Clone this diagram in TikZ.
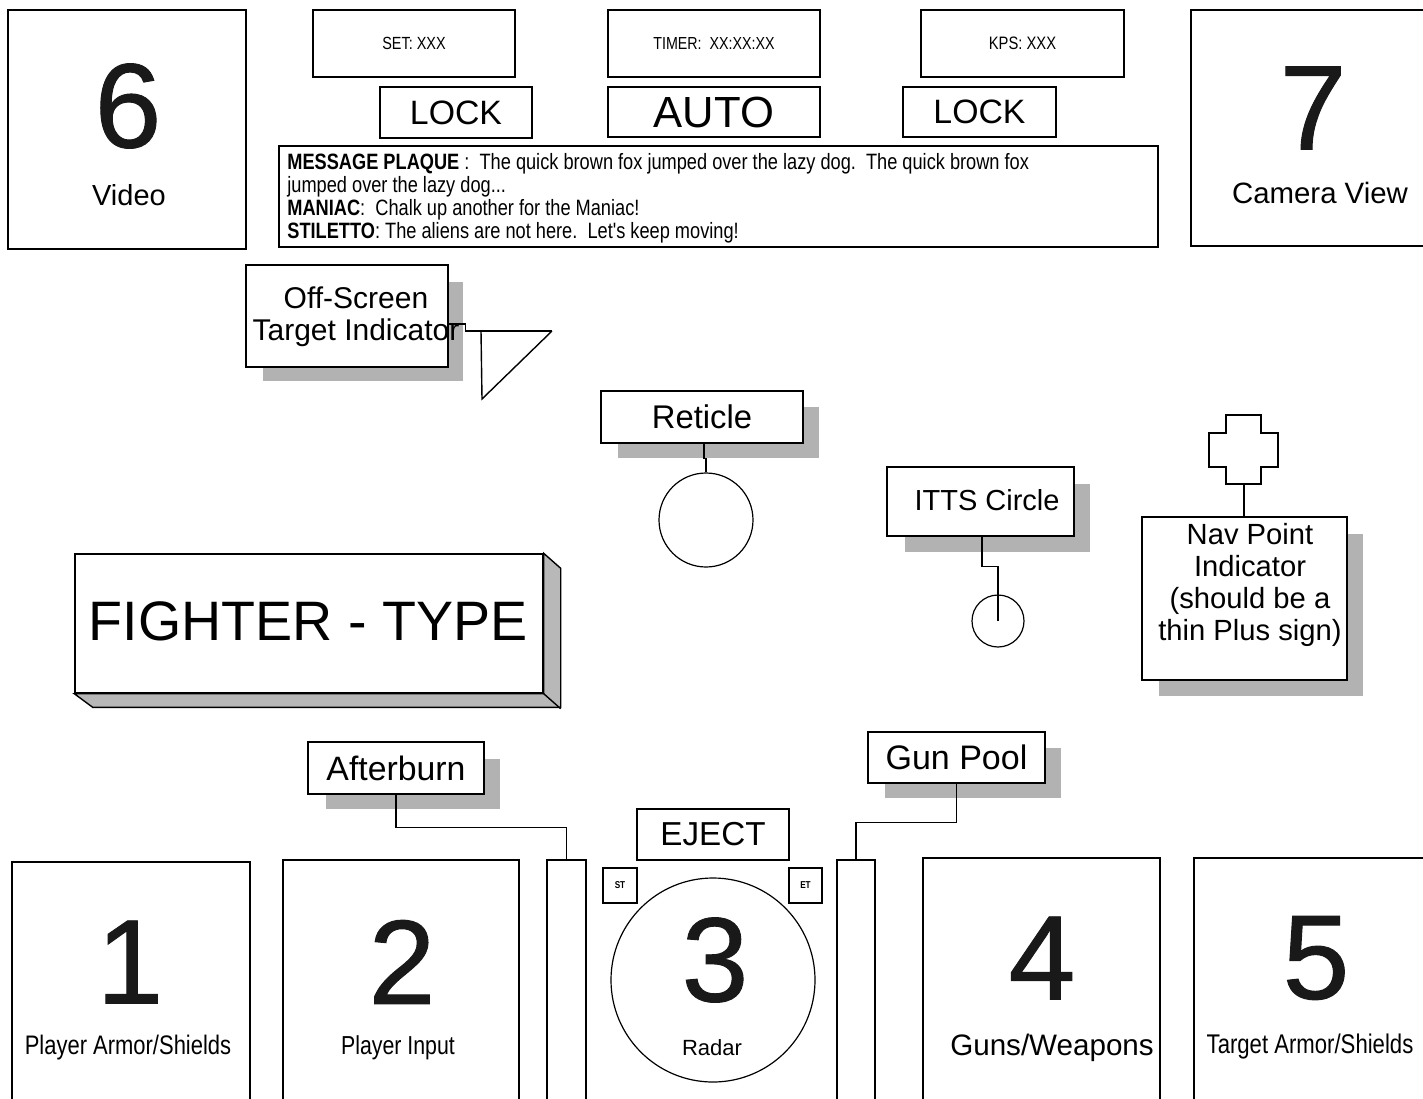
\documentclass[tikz,border=0pt]{standalone}
\usepackage{fontspec}
\setmainfont{Liberation Sans}
\newfontfamily\nar[FakeStretch=0.82]{Liberation Sans}
\newfontfamily\dig[FakeBold=0.8]{Liberation Sans}
\usetikzlibrary{fit}
\newcommand\fsz[2]{\fontsize{#1pt}{#2pt}\selectfont}
\tikzset{
  ln/.style={line width=0.7pt},
  box/.style={draw, line width=0.7pt, fill=white, inner sep=0pt, fit={#1}},
  shadowfill/.style={fill=black!30},
  txt/.style={inner sep=0pt},
  digit/.style={inner sep=0pt, text=black!90, font=\dig\fsz{60}{60}},
  circ/.style={draw, line width=0.6pt, circle, inner sep=0pt},
}
\begin{document}
\begin{tikzpicture}[x=0.5pt,y=-0.5pt]
\useasboundingbox (0,0) rectangle (1423,1098);
\clip (0,0) rectangle (1423,1098);

% ---------- top row ----------
\node[box={(8,10)(246,249)}] (b6) {};
\node[digit] (n6) at (128,106) {6};
\node[txt,font=\fsz{14.5}{17}] (l6) at (129,195) {Video};

\node[box={(1191,10)(1430,246)}] (b7) {};
\node[digit] (n7) at (1313,108) {7};
\node[txt,font=\fsz{14.7}{17}] (l7) at (1320,193) {Camera View};

\node[box={(313,10)(515,77)}] (set) {};
\node[txt,font=\nar\fsz{8.8}{10}] (setT) at (set.center) {SET: XXX};
\node[box={(608,10)(820,77)}] (tim) {};
\node[txt,font=\nar\fsz{8.7}{10}] (timT) at (tim.center) {TIMER:\ \ XX:XX:XX};
\node[box={(921,10)(1124,77)}] (kps) {};
\node[txt,font=\nar\fsz{9}{10}] (kpsT) at (kps.center) {KPS: XXX};

\node[box={(380,87)(532,138)}] (lock1) {};
\node[txt,font=\fsz{16.9}{20}] (lock1T) at (lock1.center) {LOCK};
\node[box={(608,87)(820,137)}] (auto) {};
\node[txt,font=\fsz{21.8}{24}] (autoT) at (auto.center) {AUTO};
\node[box={(903,87)(1056,137)}] (lock2) {};
\node[txt,font=\fsz{16.9}{20}] (lock2T) at (lock2.center) {LOCK};

\node[box={(279,146)(1158,247)}] (msg) {};
\node[txt,anchor=base west,font=\nar\fsz{11.1}{12}] (m1) at (287,169) {\textbf{MESSAGE PLAQUE} :\ \ The quick brown fox jumped over the lazy dog.\ \ The quick brown fox};
\node[txt,anchor=base west,font=\nar\fsz{11.1}{12}] (m2) at (287,192) {jumped over the lazy dog...};
\node[txt,anchor=base west,font=\nar\fsz{11.1}{12}] (m3) at (287,215) {\textbf{MANIAC}:\ \ Chalk up another for the Maniac!};
\node[txt,anchor=base west,font=\nar\fsz{11.1}{12}] (m4) at (287,238) {\textbf{STILETTO}: The aliens are not here.\ \ Let's keep moving!};

% ---------- off-screen target indicator ----------
\fill[shadowfill] (263,282) rectangle (463,381);
\node[box={(246,265)(448,367)}] (off) {};
\node[txt,align=center,font=\fsz{15}{16}] (offT) at (356,317) {Off-Screen\\Target Indicator};
\coordinate (triTL) at (481,331);
\coordinate (triTR) at (552,331);
\coordinate (triB) at (482,399);
\draw[ln] ([yshift=-4pt]off.east) -- ++(17,0) -- ++(0,7) -- (triTR);
\draw[ln] (triTL) -- (triB) -- (triTR);

% ---------- reticle ----------
\fill[shadowfill] (618,407) rectangle (819,458);
\node[box={(601,391)(803,443)}] (ret) {};
\node[txt,font=\fsz{16.4}{18}] (retT) at (ret.center) {Reticle};
\node[circ,minimum size=47pt] (retC) at (706,520) {};
\draw[ln] ([xshift=1pt]ret.south) -- ++(0,15) -| (retC.north);

% ---------- ITTS ----------
\fill[shadowfill] (905,484) rectangle (1090,552);
\node[box={(887,467)(1074,536)}] (itts) {};
\node[txt,font=\fsz{14.5}{17}] (ittsT) at (987,500) {ITTS Circle};
\node[circ,minimum size=26pt] (ittsC) at (998,621) {};
\draw[ln] ([xshift=0.75pt]itts.south) -- ++(0,30) -| (ittsC.center);

% ---------- nav point ----------
\fill[shadowfill] (1159,534) rectangle (1363,696);
\node[box={(1142,517)(1347,680)}] (nav) {};
\node[txt,align=center,font=\fsz{14.6}{16}] (navT) at (1250,585) {Nav Point\\Indicator\\(should be a\\thin Plus sign)};
\draw[ln] (1226,415) -- (1261,415) -- (1261,433) -- (1278,433) -- (1278,467) -- (1261,467) -- (1261,484) -- (1226,484) -- (1226,467) -- (1209,467) -- (1209,433) -- (1226,433) -- cycle;
\coordinate (plusB) at (1244,484);
\draw[ln] (plusB) -- (plusB |- nav.north);

% ---------- fighter type ----------
\node[box={(75,554)(543,693)}] (fig) {};
\filldraw[ln,fill=black!28] (fig.north east) -- ++(17,15) -- ++(0,139) -- ++(-468,0) -- (fig.south west) -- (fig.south east) -- cycle;
\draw[ln] (fig.south east) -- ++(17,15);
\node[txt,font=\fsz{27.8}{30}] (figT) at (308,621) {FIGHTER - TYPE};

% ---------- afterburn / gun pool / eject ----------
\fill[shadowfill] (326,759) rectangle (500,809);
\node[box={(308,742)(484,794)}] (aft) {};
\node[txt,font=\fsz{16.9}{20}] (aftT) at (aft.center) {Afterburn};

\fill[shadowfill] (885,748) rectangle (1061,798);
\node[box={(868,732)(1045,783)}] (gun) {};
\node[txt,font=\fsz{17}{20}] (gunT) at (gun.center) {Gun Pool};

\node[box={(637,809)(789,860)}] (ej) {};
\node[txt,font=\fsz{16.6}{20}] (ejT) at (ej.center) {EJECT};
\node[box={(603,868)(637,903)}] (st) {};
\node[txt,font=\nar\bfseries\fsz{5}{6}] (stT) at (st.center) {ST};
\node[box={(789,868)(822,903)}] (et) {};
\node[txt,font=\nar\bfseries\fsz{5}{6}] (etT) at (et.center) {ET};

\node[box={(547,860)(586,1110)}] (barL) {};
\node[box={(837,860)(875,1110)}] (barR) {};
\draw[ln] (aft.south) -- ++(0,33) -| (barL.north);
\draw[ln] (gun.south) -- ++(0,39) -| (barR.north);

% ---------- bottom row ----------
\node[box={(12,862)(250,1110)}] (b1) {};
\node[digit] (n1) at (130,962) {1};
\node[txt,font=\nar\fsz{13.4}{15}] (l1) at (128,1048) {Player Armor/Shields};

\node[box={(283,860)(519,1110)}] (b2) {};
\node[digit] (n2) at (402,962) {2};
\node[txt,font=\nar\fsz{13}{15}] (l2) at (398,1048) {Player Input};

\node[circ,minimum size=102pt] (radar) at (713,980) {};
\node[digit] (n3) at (715,960) {3};
\node[txt,font=\fsz{11}{13}] (l3) at (712,1048) {Radar};

\node[box={(923,858)(1160,1110)}] (b4) {};
\node[digit] (n4) at (1042,958) {4};
\node[txt,font=\fsz{14.8}{17}] (l4) at (1052,1048) {Guns/Weapons};

\node[box={(1194,858)(1430,1110)}] (b5) {};
\node[digit] (n5) at (1316,958) {5};
\node[txt,font=\nar\fsz{13.5}{15}] (l5) at (1310,1047) {Target Armor/Shields};
\end{tikzpicture}
\end{document}
